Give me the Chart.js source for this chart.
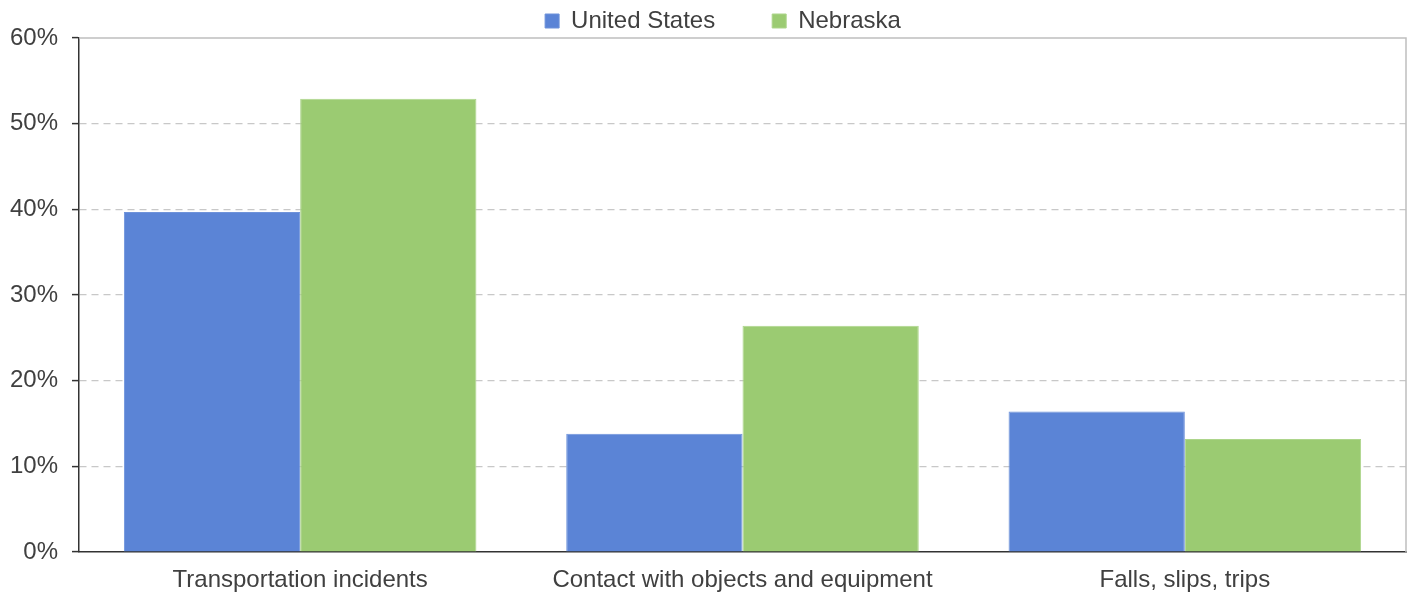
<!DOCTYPE html>
<html>
<head>
<meta charset="utf-8">
<script src="https://cdn.jsdelivr.net/npm/chart.js@4.4.0/dist/chart.umd.min.js"></script>
<style>
html,body{margin:0;padding:0;background:#fff;}
#wrap{width:1411px;height:595px;position:relative;}
</style>
</head>
<body>
<div id="wrap"><canvas id="c" width="1411" height="595"></canvas></div>
<script>
const categories = ["Transportation incidents", "Contact with objects and equipment", "Falls, slips, trips"];
const usValues = [39.7, 13.8, 16.4];
const nebraskaValues = [52.9, 26.4, 13.2];
const seriesNames = ["United States", "Nebraska"];
const yTicks = [0, 10, 20, 30, 40, 50, 60];

const textColor = '#404040';
const fontFamily = '"Liberation Sans", Arial, sans-serif';
const fontSize = 24;
const legendPad = 57;

const frame = {
  id: 'frame',
  afterDatasetsDraw(chart) {
    const {ctx, chartArea: a} = chart;
    ctx.save();
    ctx.strokeStyle = '#BFBFBF';
    ctx.lineWidth = 1.5;
    ctx.beginPath();
    ctx.moveTo(a.left, a.top);
    ctx.lineTo(a.right, a.top);
    ctx.lineTo(a.right, a.bottom);
    ctx.stroke();
    ctx.restore();
  }
};

const legendHeight = {
  id: 'legendHeight',
  beforeInit(chart) {
    const orig = chart.legend.fit;
    chart.legend.fit = function () {
      orig.bind(chart.legend)();
      this.height = 38;
    };
  },
  afterLayout(chart) {
    const lg = chart.legend;
    lg.top -= (legendPad - 9);
    lg.left += 20;
    lg.right += 20;
  }
};

new Chart(document.getElementById('c'), {
  type: 'bar',
  data: {
    labels: categories,
    datasets: [
      { label: seriesNames[0], data: usValues, backgroundColor: '#5B84D6', borderColor: '#6E92DA', borderWidth: 1, barPercentage: 1.0, categoryPercentage: 0.797 },
      { label: seriesNames[1], data: nebraskaValues, backgroundColor: '#9BCB72', borderColor: '#ADD58B', borderWidth: 1, barPercentage: 1.0, categoryPercentage: 0.797 }
    ]
  },
  options: {
    responsive: false,
    animation: false,
    devicePixelRatio: 1,
    layout: { padding: { left: 0, right: 5, top: 0, bottom: 0 } },
    plugins: {
      legend: {
        position: 'top',
        labels: {
          boxWidth: 14, boxHeight: 14, padding: legendPad,
          color: textColor,
          font: { family: fontFamily, size: fontSize }
        }
      },
      tooltip: { enabled: false }
    },
    scales: {
      x: {
        afterFit(scale) { scale.height = 43; },
        grid: { display: false, drawTicks: false },
        border: { display: true, color: '#333333', width: 1.5 },
        ticks: { color: textColor, font: { family: fontFamily, size: fontSize }, padding: 14, maxRotation: 0 }
      },
      y: {
        min: 0, max: 60,
        afterFit(scale) { scale.width = 79; },
        afterBuildTicks(scale) { scale.ticks = yTicks.map(v => ({ value: v })); },
        grid: {
          color: ctx => (ctx.tick && (ctx.tick.value === 0 || ctx.tick.value === 60)) ? 'rgba(0,0,0,0)' : '#C8C8C8',
          lineWidth: 1.2,
          tickLength: 7,
          tickColor: '#333333',
          tickWidth: 1.5
        },
        border: { display: true, color: '#333333', width: 1.5, dash: [7, 5] },
        ticks: {
          color: textColor,
          font: { family: fontFamily, size: fontSize },
          padding: 14,
          callback: v => v + '%'
        }
      }
    }
  },
  plugins: [legendHeight, frame]
});
</script>
</body>
</html>
